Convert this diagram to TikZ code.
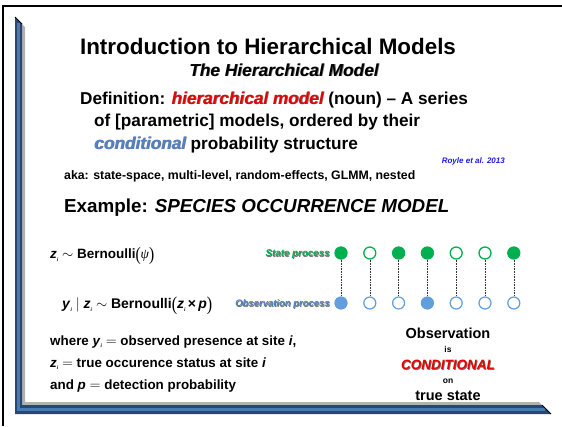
\documentclass[tikz,border=0pt]{standalone}
\usepackage{fontspec}
\usepackage{graphicx}
\setmainfont{Liberation Sans}
\newfontfamily\symfont{Liberation Serif}
\definecolor{sgreen}{RGB}{0,176,80}
\definecolor{oblue}{RGB}{98,158,220}
\definecolor{cblue}{RGB}{80,130,200}
\definecolor{rblue}{RGB}{30,30,230}
\definecolor{hred}{RGB}{235,0,0}
\definecolor{barblue}{RGB}{38,72,115}
\definecolor{barlight}{RGB}{75,122,175}
\newcommand{\shtext}[2]{\makebox[0pt][l]{\hspace{0.8pt}\raisebox{-0.8pt}{\textcolor{black!55}{#2}}}\textcolor{#1}{#2}}
\newcommand{\vz}{\textbf{\textit{z}}\raisebox{-0.35ex}{\fontsize{5}{5}\selectfont\itshape i}}
\newcommand{\vy}{\textbf{\textit{y}}\raisebox{-0.35ex}{\fontsize{5}{5}\selectfont\itshape i}}
\newcommand{\lpar}{\raisebox{-0.22ex}{\scalebox{1.15}[1.4]{\symfont\mdseries(}}}
\newcommand{\rpar}{\raisebox{-0.22ex}{\scalebox{1.15}[1.4]{\symfont\mdseries)}}}
\begin{document}
\begin{tikzpicture}[x=1pt,y=-1pt,
  st/.style={circle,draw=sgreen,line width=1.3pt,minimum size=12pt,inner sep=0pt,fill=white},
  stf/.style={st,fill=sgreen},
  ob/.style={circle,draw=oblue,line width=1.2pt,minimum size=12pt,inner sep=0pt,fill=white},
  obf/.style={ob,fill=oblue},
  link/.style={densely dotted,line width=0.6pt,black!80},
  tx/.style={inner sep=0pt,font=\bfseries\fontsize{17.2}{20}\selectfont}]
\useasboundingbox (0,0) rectangle (562,426);
\fill[white] (0,0) rectangle (562,426);
\draw[line width=2pt] (3,426) -- (3,6) -- (562,6);
% frame bar
\fill[black!30] (22,24) -- (25,27) -- (25,402) -- (539,402) -- (542,405) -- (22,405) -- cycle;
\fill[barblue] (15,17) -- (22,24) -- (22,405) -- (542,405) -- (551,414) -- (15,414) -- cycle;
\draw[barlight,line width=2.2pt] (18.5,23) -- (18.5,409.5) -- (545,409.5);
\draw[black,line width=1pt] (15,17) -- (22,24);
\draw[black,line width=1pt] (542,405) -- (551,414);
% titles
\node[tx,anchor=base,font=\bfseries\fontsize{22.4}{26}\selectfont] (title) at (268,54) {Introduction to Hierarchical Models};
\node[tx,anchor=base,font=\bfseries\itshape\fontsize{17.3}{20}\selectfont] (sub) at (284,76) {\shtext{black}{The Hierarchical Model}};
% definition
\node[tx,anchor=base west] (def1) at (80,104) {Definition: \shtext{hred}{\itshape hierarchical model} (noun) -- A series};
\node[tx,anchor=base west] (def2) at (94,126) {of [parametric] models, ordered by their};
\node[tx,anchor=base west] (def3) at (94,149) {\shtext{cblue}{\itshape conditional} probability structure};
\node[tx,anchor=base east,font=\bfseries\itshape\fontsize{8}{9}\selectfont,text=rblue] (royle) at (505,163) {Royle et al. 2013};
\node[tx,anchor=base west,font=\bfseries\fontsize{12.3}{14}\selectfont] (aka) at (64,179.5) {aka: state-space, multi-level, random-effects, GLMM, nested};
\node[tx,anchor=base west,font=\bfseries\fontsize{18.8}{22}\selectfont] (ex) at (64,212) {Example: \itshape SPECIES OCCURRENCE MODEL};
% model equations
\node[tx,anchor=base west,font=\bfseries\fontsize{13.5}{16}\selectfont] (zeq) at (50,258.5) {\vz\ $\sim$ Bernoulli\lpar{\symfont\itshape\mdseries ψ}\rpar};
\node[tx,anchor=base west,font=\bfseries\fontsize{14}{16}\selectfont] (yeq) at (62,308.5) {\vy\ $|$ \vz\ $\sim$ Bernoulli\lpar\vz\,×\,\textbf{\textit{p}}\rpar};
\node[tx,anchor=base east,font=\bfseries\itshape\fontsize{9.8}{11}\selectfont] (sp) at (330,256.5) {\shtext{sgreen}{State process}};
\node[tx,anchor=base east,font=\bfseries\itshape\fontsize{9.5}{11}\selectfont] (op) at (330,306.5) {\shtext{cblue}{Observation process}};
% circles
\foreach \i/\s/\o in {1/stf/obf,2/st/ob,3/stf/ob,4/stf/obf,5/st/ob,6/st/ob,7/stf/ob}{
  \node[\s] (s\i) at ({341+28.8*(\i-1)},253) {};
  \node[\o] (o\i) at ({341+28.8*(\i-1)},303) {};
  \draw[link] (s\i) -- (o\i);
}
% where lines
\node[tx,anchor=base west,font=\bfseries\fontsize{13.4}{15}\selectfont] (w1) at (50,345) {where \vy\ $=$ observed presence at site \textit{i},};
\node[tx,anchor=base west,font=\bfseries\fontsize{13.4}{15}\selectfont] (w2) at (50,367) {\vz\ $=$ true occurence status at site \textit{i}};
\node[tx,anchor=base west,font=\bfseries\fontsize{13.4}{15}\selectfont] (w3) at (50,389) {and \textbf{\textit{p}} $=$ detection probability};
% conditional column
\node[tx,anchor=base,font=\bfseries\fontsize{14.5}{16}\selectfont] (c1) at (448,338.5) {Observation};
\node[tx,anchor=base,font=\bfseries\fontsize{8.5}{10}\selectfont] (c2) at (448,352.5) {is};
\node[tx,anchor=base,font=\bfseries\itshape\fontsize{13.5}{15}\selectfont] (c3) at (448,369.5) {\shtext{hred}{CONDITIONAL}};
\node[tx,anchor=base,font=\bfseries\fontsize{8.5}{10}\selectfont] (c4) at (448,383.5) {on};
\node[tx,anchor=base,font=\bfseries\fontsize{14.5}{16}\selectfont] (c5) at (448,400.5) {true state};
\end{tikzpicture}
\end{document}
